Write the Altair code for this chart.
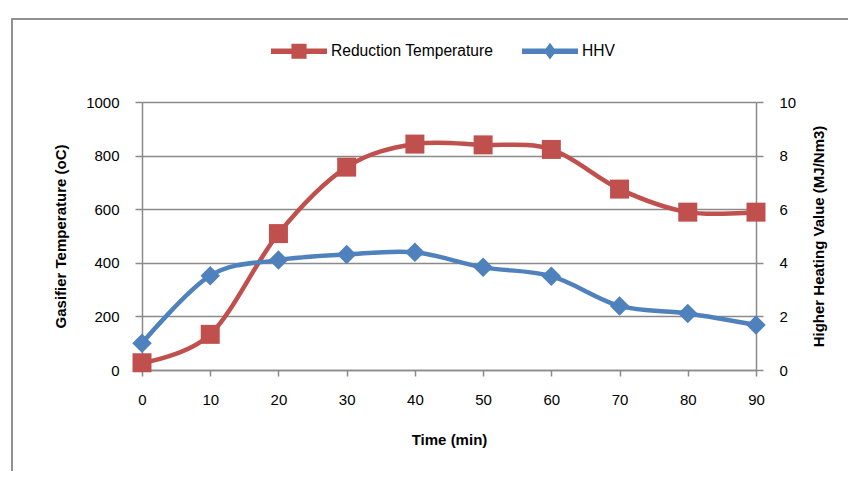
import altair as alt
import pandas as pd

# ---- data ----
time_min = [0, 10, 20, 30, 40, 50, 60, 70, 80, 90]
reduction_temp = [27, 133, 509, 757, 843, 840, 823, 675, 589, 589]
hhv = [1.00, 3.52, 4.10, 4.31, 4.39, 3.83, 3.50, 2.39, 2.11, 1.68]
series_names = ["Reduction Temperature", "HHV"]
temp_ticks = [0, 200, 400, 600, 800, 1000]
hhv_ticks = [0, 2, 4, 6, 8, 10]

RED = "#C0504D"
BLUE = "#4F81BD"
GRAY = "#8a8a8a"
FONT = "Liberation Sans"

# legend glyphs: line with a marker in the middle (unit box -1..1)
LEG_SQUARE = ("M-1,-0.1 L1,-0.1 L1,0.1 L-1,0.1 Z "
              "M-0.27,-0.27 L0.27,-0.27 L0.27,0.27 L-0.27,0.27 Z")
LEG_DIAMOND = ("M-1,-0.1 L1,-0.1 L1,0.1 L-1,0.1 Z "
               "M0,-0.3 L0.22,0 L0,0.3 L-0.22,0 Z")

df = pd.DataFrame({"time": time_min, "temp": reduction_temp, "hhv": hhv})
legend_df = pd.DataFrame({"series": series_names})

x_enc = alt.X(
    "time:Q",
    scale=alt.Scale(domain=[0, 90], nice=False, zero=False),
    axis=alt.Axis(
        values=time_min, title="Time (min)", grid=False, format="d", labelFlush=False,
        domainColor=GRAY, domainWidth=1.5, tickColor=GRAY, tickWidth=1.5, tickSize=6,
        labelPadding=16, labelFontSize=15, labelFont=FONT, labelColor="#000000",
        titleFontSize=15, titleFont=FONT, titleFontWeight="bold", titleColor="#000000",
        titlePadding=25,
    ),
)

y_temp = alt.Y(
    "temp:Q",
    scale=alt.Scale(domain=[0, 1000], nice=False),
    axis=alt.Axis(
        orient="left", values=temp_ticks, title="Gasifier Temperature (oC)",
        format="d", labelFlush=False,
        grid=True, gridColor=GRAY, gridWidth=1.5,
        domainColor=GRAY, domainWidth=1.5, tickColor=GRAY, tickWidth=1.5, tickSize=7,
        labelPadding=16, labelFontSize=15, labelFont=FONT, labelColor="#000000",
        titleFontSize=15, titleFont=FONT, titleFontWeight="bold", titleColor="#000000",
        titlePadding=17,
    ),
)

y_hhv = alt.Y(
    "hhv:Q",
    scale=alt.Scale(domain=[0, 10], nice=False),
    axis=alt.Axis(
        orient="right", values=hhv_ticks, title="Higher Heating Value (MJ/Nm3)",
        format="d", labelFlush=False, grid=False,
        domainColor=GRAY, domainWidth=1.5, tickColor=GRAY, tickWidth=1.5, tickSize=7,
        labelPadding=16, labelFontSize=15, labelFont=FONT, labelColor="#000000",
        titleFontSize=15, titleFont=FONT, titleFontWeight="bold", titleColor="#000000",
        titleAngle=270, titleBaseline="top", titlePadding=16,
    ),
)

base = alt.Chart(df)

temp_line = base.mark_line(color=RED, strokeWidth=4.5, interpolate="cardinal").encode(
    x=x_enc, y=y_temp)
temp_pts = base.mark_point(shape="square", filled=True, color=RED, size=361,
                           opacity=1, strokeWidth=0).encode(x=x_enc, y=y_temp)

legend_props = dict(
    orient="none", legendX=129, legendY=-79, direction="horizontal", title=None,
    symbolSize=3136, symbolStrokeWidth=0, symbolOpacity=1,
    labelFont=FONT, labelFontSize=15.6, labelColor="#000000", labelOffset=4,
    labelLimit=400, columnPadding=28, padding=0,
)
legend_layer = alt.Chart(legend_df).transform_filter("false").mark_point(
    filled=True, opacity=1, strokeWidth=0, size=3136
).encode(
    color=alt.Color("series:N", scale=alt.Scale(domain=series_names, range=[RED, BLUE]),
                    legend=alt.Legend(**legend_props)),
    shape=alt.Shape("series:N", scale=alt.Scale(domain=series_names,
                                                range=[LEG_SQUARE, LEG_DIAMOND]),
                    legend=alt.Legend(**legend_props)),
)

hhv_line = base.mark_line(color=BLUE, strokeWidth=4.5, interpolate="cardinal").encode(
    x=x_enc, y=y_hhv)
hhv_pts = base.mark_point(shape="diamond", filled=True, color=BLUE, size=380,
                          opacity=1, strokeWidth=0).encode(x=x_enc, y=y_hhv)

frame = alt.Chart(legend_df).mark_rect(
    fill="transparent", stroke=GRAY, strokeWidth=1.5
).encode(x=alt.value(-130), x2=alt.value(900), y=alt.value(-83), y2=alt.value(600))

temp_group = alt.layer(temp_line, temp_pts, legend_layer)
hhv_group = alt.layer(hhv_line, hhv_pts)

chart = alt.layer(frame, temp_group, hhv_group).resolve_scale(
    y="independent"
).properties(
    width=614, height=268,
    autosize=alt.AutoSizeParams(type="none"),
    padding={"left": 134, "top": 94, "right": 92, "bottom": 101},
    background="white",
).configure_view(strokeWidth=0)

chart.save("out.html", embed_options={"renderer": "svg", "actions": False})
